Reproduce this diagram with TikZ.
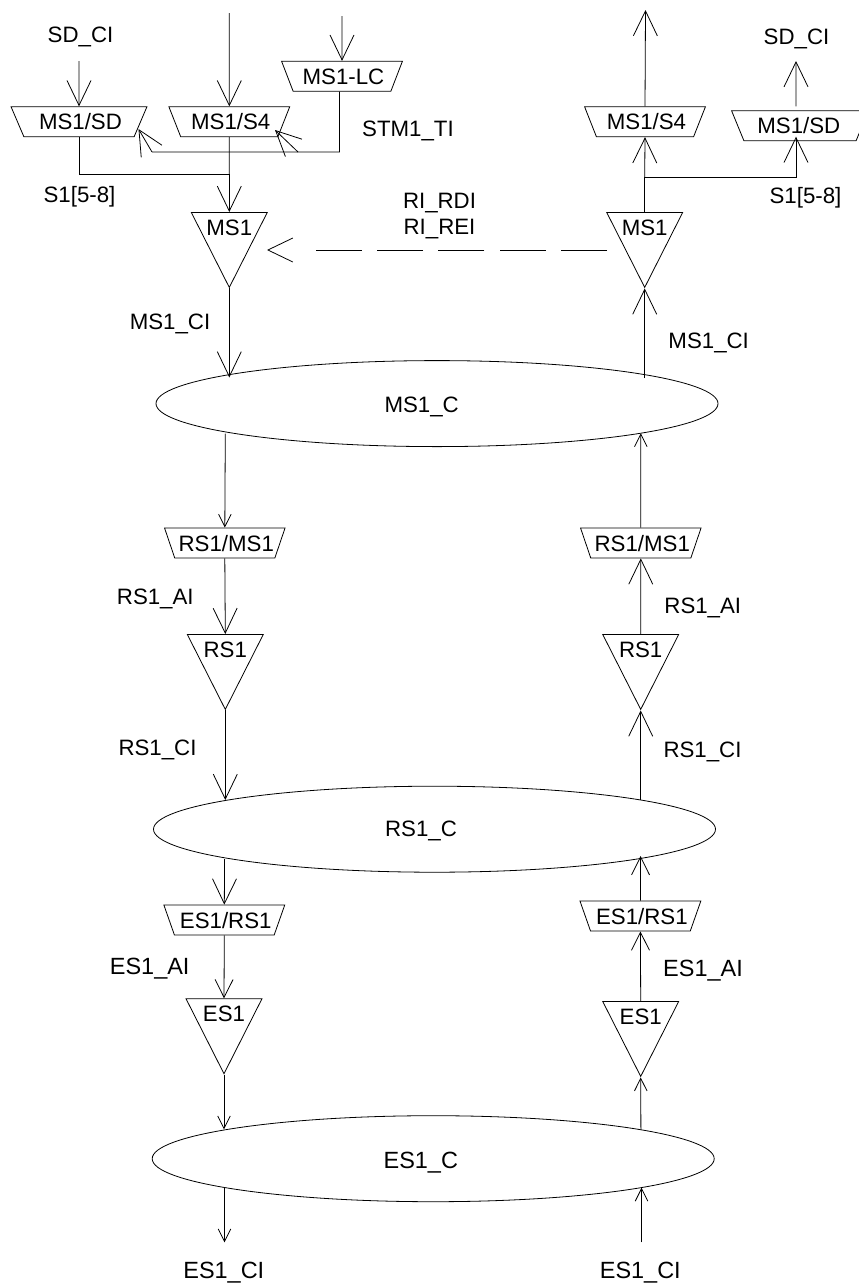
\documentclass[tikz,border=0pt]{standalone}
\usepackage{fontspec}
\setmainfont{Liberation Sans}
\usetikzlibrary{
  arrows.meta,
  shapes.geometric
}
\tikzset{
  lbl/.style={inner sep=0pt, text height=12pt, text depth=0pt,
    font=\fontsize{16.7}{19.1}\selectfont},
  lblbig/.style={lbl, font=\fontsize{17.6}{19.1}\selectfont},
  muxbox/.style={draw, trapezium, shape border rotate=180,
    trapezium stretches=true, trapezium left angle=58, trapezium right angle=58,
    minimum width=91pt, minimum height=22.5pt, inner sep=0pt,
    text height=12pt, text depth=0pt,
    font=\fontsize{16.7}{19.1}\selectfont,
    execute at begin node=\hspace*{2.2pt}},
  muxwide/.style={muxbox, minimum width=102.75pt},
  termtri/.style={draw, isosceles triangle, shape border rotate=270,
    isosceles triangle stretches=true,
    minimum width=57pt, minimum height=56.25pt, inner sep=0pt,
    anchor=lower side},
  connect/.style={draw, ellipse, minimum width=421.5pt, minimum height=64.5pt,
    inner sep=0pt},
  arrlong/.style={-{Straight Barb[length=18.7pt, width=18pt]}},
  arrmid/.style={-{Straight Barb[length=13.5pt, width=13.5pt]}},
  arrshort/.style={-{Straight Barb[length=9.4pt, width=9.4pt]}},
}

\begin{document}
\begin{tikzpicture}[x=0.75pt, y=-0.75pt, line width=0.6pt]
  \useasboundingbox (0,0) rectangle (859,1285);

  % Adaptation boxes
  \node[muxwide] (sdl) at (79,121.75) {MS1/SD};
  \node[muxbox] (s4l) at (229.3,121.75) {MS1/S4};
  \node[muxbox] (lc) at (342,76.25) {MS1-LC};
  \node[muxbox] (s4r) at (645,121.75) {MS1/S4};
  \node[muxwide, execute at begin node={}, execute at end node=\hspace*{3.9pt}]
    (sdr) at (800,125.75) {MS1/SD};
  \node[muxbox] (rml) at (224.8,543) {RS1/MS1};
  \node[muxbox] (rmr) at (640.8,543) {RS1/MS1};
  \node[muxbox] (erl) at (224.3,920) {ES1/RS1};
  \node[muxbox] (err) at (640.4,916) {ES1/RS1};

  % Termination triangles
  \foreach \n/\x/\y/\t in {ms1l/229.3/212/MS1, ms1r/644.7/212/MS1,
      rs1l/225.3/634/RS1, rs1r/640.7/634/RS1,
      es1l/224/998.3/ES1, es1r/640.7/1001/ES1} {
    \node[termtri] (\n) at (\x,\y) {};
    \node[lbl] (\n txt) at (\x,\y+15.5) {\t};
  }

  % Connection ellipses
  \node[connect] (ms1c) at (437,403.6) {};
  \node[connect] (rs1c) at (434.5,829.2) {};
  \node[connect] (es1c) at (433.2,1158.7) {};
  \node[lbl] (ms1ctxt) at (421.7,404) {MS1\_C};
  \node[lbl] (rs1ctxt) at (421,828.5) {RS1\_C};
  \node[lblbig] (es1ctxt) at (420.8,1160) {ES1\_C};

  % Free ends and points on the ellipses
  \coordinate (sdin) at (79,61);
  \coordinate (s4in) at (229.3,13);
  \coordinate (lcin) at (342,16);
  \coordinate (s4out) at (645.5,10);
  \coordinate (sdout) at (796,61);
  \coordinate (s1join) at (229.3,174);
  \coordinate (s1split) at (644.7,177);
  \coordinate (sdrtip) at (796,136.7);
  \coordinate (busr) at (339.5,152);
  \coordinate (busm) at (298,152);
  \coordinate (busl) at (152,152);
  \coordinate (sdltip) at (138.5,129);
  \coordinate (s4ltip) at (275,130);
  \coordinate (rifrom) at (607,250);
  \coordinate (rito) at (267,250);
  \coordinate (ms1ctl) at (229.3,377.5);
  \coordinate (ms1ctr) at (644.7,378);
  \coordinate (ms1cbl) at (225.3,433.7);
  \coordinate (ms1cbr) at (640.8,433.3);
  \coordinate (rs1ctl) at (225.3,800);
  \coordinate (rs1ctr) at (640.7,800);
  \coordinate (rs1cbl) at (224.6,859);
  \coordinate (rs1cbr) at (640.6,856);
  \coordinate (es1ctl) at (224,1129.3);
  \coordinate (es1ctr) at (640.9,1129.3);
  \coordinate (es1cbl) at (224.5,1187.3);
  \coordinate (es1cbr) at (641.5,1187.7);
  \coordinate (es1out) at (224.5,1242.3);
  \coordinate (es1in) at (641.5,1242.3);

  % Arrows
  \foreach \a/\b in {sdin/sdl.north, s4in/s4l.north, lcin/lc.north,
      s1join/ms1l.lower side, ms1l.apex/ms1ctl, rml.south/rs1l.lower side,
      rs1l.apex/rs1ctl, rs1cbl/erl.north, s1split/s4r.south, s4r.north/s4out,
      ms1ctr/ms1r.apex, rs1r.lower side/rmr.south, rs1ctr/rs1r.apex,
      busl/sdltip, busm/s4ltip} {
    \draw[arrlong] (\a) -- (\b);
  }
  \foreach \a/\b in {erl.south/es1l.lower side, err.north/rs1cbr,
      es1r.lower side/err.south} {
    \draw[arrmid] (\a) -- (\b);
  }
  \foreach \a/\b in {ms1cbl/rml.north, rmr.north/ms1cbr, es1l.apex/es1ctl,
      es1cbl/es1out, es1ctr/es1r.apex, es1in/es1cbr} {
    \draw[arrshort] (\a) -- (\b);
  }

  % S1 and bus wires
  \draw (sdl.south) |- (s1join);
  \draw (s4l.south) -- (s1join);
  \draw (ms1r.lower side) -- (s1split);
  \draw[arrlong] (s1split) -| (sdrtip);
  \draw[arrlong] ([xshift=-3pt,yshift=3pt]sdr.north) -- (sdout);
  \draw ([xshift=-1.9pt]lc.south) -- (busr) -- (busl);

  % RI arrow
  \draw[arrlong, dash pattern=on 34.5pt off 11.5pt on 34.5pt off 11.5pt
      on 34.5pt off 11.5pt on 34.5pt off 11.5pt on 34.5pt off 60pt]
    (rifrom) -- (rito);
  \node[inner sep=0pt, align=center, font=\fontsize{16.7}{19.1}\selectfont]
    (ritxt) at (439.5,216) {RI\_RDI\\RI\_REI};

  % Signal labels
  \node[lbl] (sdcil) at (80.5,34) {SD\_CI};
  \node[lbl] (sdcir) at (796.5,36) {SD\_CI};
  \node[lbl] (stmti) at (408,128) {STM1\_TI};
  \node[lbl] (s1l) at (79.5,194) {S1[5-8]};
  \node[lbl] (s1r) at (805.5,195) {S1[5-8]};
  \node[lbl] (mcil) at (170,321.7) {MS1\_CI};
  \node[lbl] (mcir) at (708.7,340) {MS1\_CI};
  \node[lbl] (rail) at (155.3,596) {RS1\_AI};
  \node[lbl] (rair) at (702.8,605) {RS1\_AI};
  \node[lbl] (rcil) at (157.5,747.3) {RS1\_CI};
  \node[lbl] (rcir) at (702.5,749.3) {RS1\_CI};
  \node[lblbig] (eail) at (149.7,966.7) {ES1\_AI};
  \node[lblbig] (eair) at (703,968) {ES1\_AI};
  \node[lblbig] (ecil) at (223.8,1270) {ES1\_CI};
  \node[lblbig] (ecir) at (640.3,1270.7) {ES1\_CI};
\end{tikzpicture}
\end{document}
